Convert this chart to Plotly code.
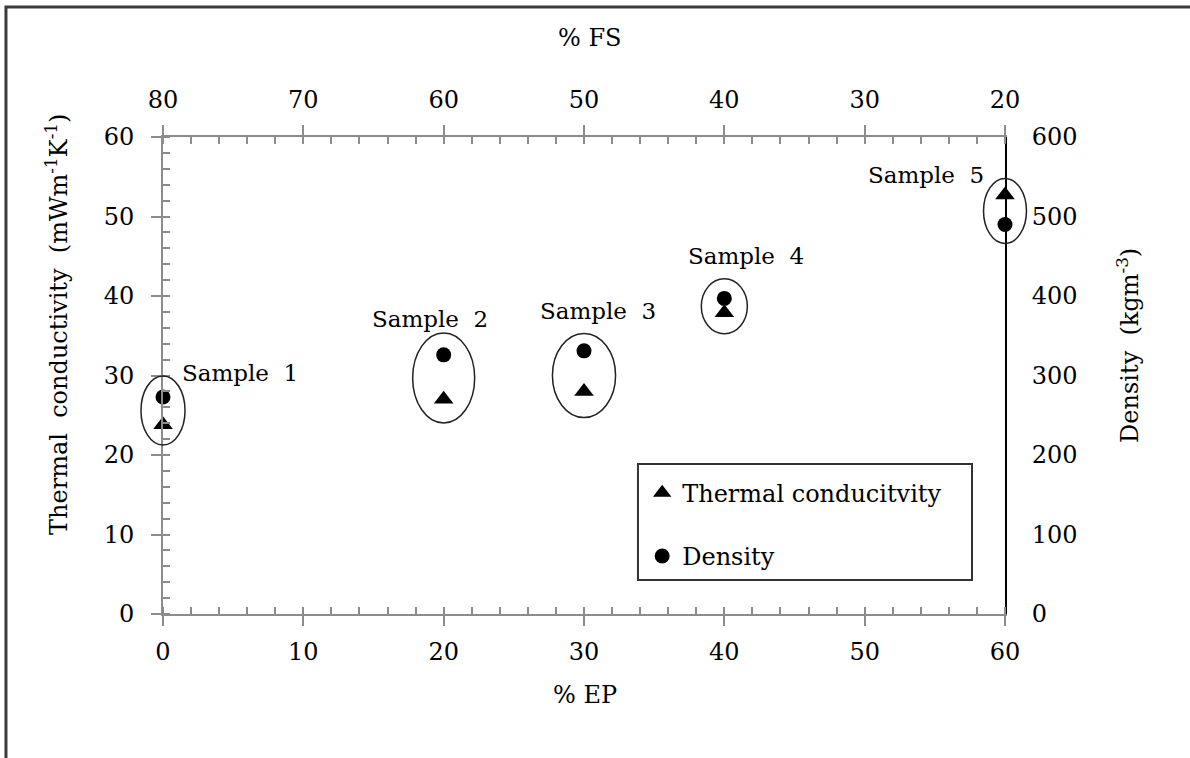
import plotly.graph_objects as go

# Sample composition (% EP on the bottom axis, % FS = 80 - % EP on the top axis)
samples = ["Sample 1", "Sample 2", "Sample 3", "Sample 4", "Sample 5"]
ep_percent = [0, 20, 30, 40, 60]
thermal_conductivity = [23.8, 27.0, 28.0, 37.9, 52.7]   # mW m-1 K-1
density = [273, 326, 331, 397, 490]                     # kg m-3

fs_ticks = [80, 70, 60, 50, 40, 30, 20]

EP_RANGE = [0, 60]
TC_RANGE = [0, 60]

FONT = "DejaVu Serif"
GRAY = "#8c8c8c"


def to_paper(v, rng):
    return (v - rng[0]) / (rng[1] - rng[0])


fig = go.Figure()

fig.add_trace(go.Scatter(
    x=ep_percent, y=thermal_conductivity, mode="markers",
    name="Thermal conducitvity", legendgroup="tc",
    marker=dict(symbol="triangle-up", size=17, color="black"),
    cliponaxis=False, xaxis="x", yaxis="y",
))
fig.add_trace(go.Scatter(
    x=ep_percent, y=density, mode="markers",
    name="Density", legendgroup="d",
    marker=dict(symbol="circle", size=15, color="black"),
    cliponaxis=False, xaxis="x", yaxis="y2",
))

# ellipses grouping the two points of each sample (centre offset, half-width, half-height)
# drawn in paper coordinates so the ones on the plot edges are not clipped
ellipse_geom = [
    (1.8, 1.57, 4.35),
    (2.7, 2.21, 5.66),
    (2.0, 2.25, 5.28),
    (0.8, 1.64, 3.46),
    (-2.0, 1.53, 4.09),
]
for x, tc, (dy, hw, hh) in zip(ep_percent, thermal_conductivity, ellipse_geom):
    cy = tc + dy
    fig.add_shape(type="circle", xref="paper", yref="paper",
                  x0=to_paper(x - hw, EP_RANGE), x1=to_paper(x + hw, EP_RANGE),
                  y0=to_paper(cy - hh, TC_RANGE), y1=to_paper(cy + hh, TC_RANGE),
                  line=dict(color="#222222", width=1.5))

# sample labels (offsets from the thermal-conductivity point)
label_offsets = [(1.2, 6.5), (-5.25, 10.1), (-3.3, 10.1), (-2.7, 7.1), (-9.9, 2.5)]
for name, x, tc, (dx, dy) in zip(samples, ep_percent, thermal_conductivity, label_offsets):
    fig.add_annotation(x=x + dx, y=tc + dy, xref="x", yref="y", text=name.replace(" ", "\u00a0 "),
                       showarrow=False, xanchor="left", yanchor="middle",
                       font=dict(family=FONT, size=23, color="black"))

# axis titles
title_font = dict(family=FONT, size=24, color="black")
title_kw = dict(xref="paper", yref="paper", showarrow=False, font=title_font,
                xanchor="center", yanchor="middle")
fig.add_annotation(x=0.507, y=1.2075, text="% FS", **title_kw)
fig.add_annotation(x=0.501, y=-0.170, text="% EP", **title_kw)
fig.add_annotation(x=-0.1259, y=0.608, textangle=-90,
                   text="Thermal\u00a0 conductivity\u00a0 (mWm<sup>-1</sup>K<sup>-1</sup>)",
                   **title_kw)
fig.add_annotation(x=1.146, y=0.564, textangle=-90,
                   text="Density\u00a0 (kgm<sup>-3</sup>)", **title_kw)

# outer frame (left and top edges visible)
fig.add_shape(type="rect", xref="paper", yref="paper",
              x0=-0.1865, x1=1.3, y0=-0.4, y1=1.2725,
              line=dict(color="#3a3a3a", width=3), layer="below")

# legend box
BOX_X0, BOX_X1, BOX_Y0, BOX_Y1 = 0.5641, 0.9608, 0.0713, 0.3145
fig.add_shape(type="rect", xref="paper", yref="paper",
              x0=BOX_X0, x1=BOX_X1, y0=BOX_Y0, y1=BOX_Y1,
              line=dict(color="#333333", width=2), fillcolor="white", layer="below")

tick_font = dict(family=FONT, size=24, color="black")
fig.update_layout(
    width=1190, height=758,
    margin=dict(l=163, r=185, t=137, b=144),
    paper_bgcolor="white", plot_bgcolor="rgba(0,0,0,0)",
    showlegend=True,
    legend=dict(x=BOX_X0 + 0.005, y=BOX_Y1 - 0.014, xanchor="left", yanchor="top",
                borderwidth=0, bgcolor="rgba(0,0,0,0)",
                font=dict(family=FONT, size=24, color="black"),
                tracegroupgap=29, itemsizing="trace"),
    xaxis=dict(range=EP_RANGE, dtick=10, tick0=0, showgrid=False, zeroline=False,
               showline=True, linecolor=GRAY, linewidth=2,
               ticks="outside", ticklen=10, tickwidth=1.5, tickcolor=GRAY,
               minor=dict(dtick=2, ticks="inside", ticklen=7, tickcolor=GRAY, tickwidth=1.5),
               tickfont=tick_font, ticklabelstandoff=5),
    xaxis2=dict(range=[80, 20], overlaying="x", side="top", tickvals=fs_ticks,
                showgrid=False, zeroline=False,
                showline=True, linecolor=GRAY, linewidth=2,
                ticks="outside", ticklen=10, tickwidth=1.5, tickcolor=GRAY,
                minor=dict(dtick=2, ticks="inside", ticklen=7, tickcolor=GRAY, tickwidth=1.5),
                tickfont=tick_font, ticklabelstandoff=7),
    yaxis=dict(range=TC_RANGE, dtick=10, showgrid=False, zeroline=False,
               showline=True, linecolor=GRAY, linewidth=2,
               ticks="outside", ticklen=10, tickwidth=1.5, tickcolor=GRAY,
               minor=dict(dtick=2, ticks="inside", ticklen=7, tickcolor=GRAY, tickwidth=1.5),
               tickfont=tick_font, ticklabelstandoff=12),
    yaxis2=dict(range=[0, 600], dtick=100, overlaying="y", side="right",
                showgrid=False, zeroline=False,
                showline=True, linecolor="black", linewidth=2, ticks="",
                tickfont=tick_font, ticklabelstandoff=20),
)

# invisible point so the top axis is drawn
fig.add_trace(go.Scatter(x=[80], y=[0], xaxis="x2", yaxis="y", mode="markers",
                         marker=dict(opacity=0), showlegend=False, hoverinfo="skip"))

fig.write_html("out.html")
